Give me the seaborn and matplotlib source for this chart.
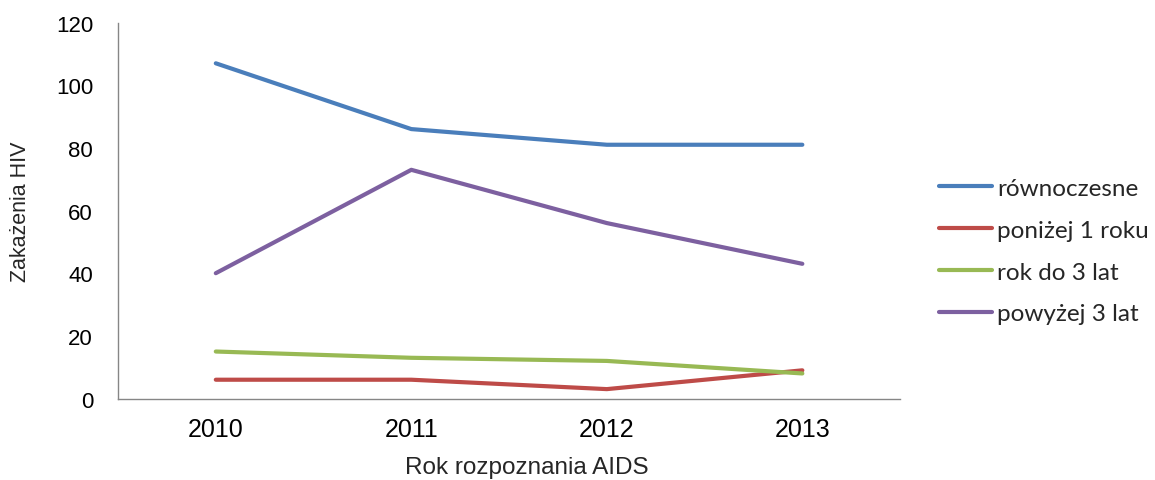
import matplotlib
matplotlib.use("Agg")
import matplotlib.pyplot as plt
import seaborn as sns
import pandas as pd
import numpy as np

# Rok rozpoznania AIDS vs. czas od zakażenia HIV
years = ["2010", "2011", "2012", "2013"]
rownoczesne = [107, 86, 81, 81]
ponizej_1_roku = [6, 6, 3, 9]
rok_do_3_lat = [15, 13, 12, 8]
powyzej_3_lat = [40, 73, 56, 43]

series_names = ["równoczesne", "poniżej 1 roku", "rok do 3 lat", "powyżej 3 lat"]
series_values = [rownoczesne, ponizej_1_roku, rok_do_3_lat, powyzej_3_lat]
colors = ["#4A7EBB", "#BE4B48", "#98B954", "#7D60A0"]

rows = []
for name, vals in zip(series_names, series_values):
    for i, v in enumerate(vals):
        rows.append({"pos": i, "rok": years[i], "seria": name, "wartosc": v})
df = pd.DataFrame(rows)

sns.set_style("white")
plt.rcParams["font.family"] = ["Liberation Sans", "DejaVu Sans"]

fig = plt.figure(figsize=(11.55, 4.81), dpi=100)
ax = fig.add_axes([0.1022, 0.1694, 0.6771, 0.7816])

sns.lineplot(data=df, x="pos", y="wartosc", hue="seria", hue_order=series_names,
             palette=colors, linewidth=3.0, ax=ax, legend=False,
             solid_capstyle="round", solid_joinstyle="round")

ax.set_xlim(-0.5, len(years) - 0.5)
ax.set_ylim(0, 120)
ax.set_yticks(np.arange(0, 121, 20))

# category ticks between groups, labels centred under each year
ax.set_xticks(np.arange(-0.5, len(years), 1.0))
ax.set_xticklabels([])
ax.set_xticks(np.arange(len(years)), minor=True)
ax.set_xticklabels(years, minor=True)
ax.tick_params(axis="x", which="major", length=7, width=1, color="#868686", direction="out")
ax.tick_params(axis="x", which="minor", length=0, labelsize=18, pad=13, labelcolor="#000000")
ax.tick_params(axis="y", length=7, width=1, color="#868686", direction="out",
               labelsize=16, pad=11, labelcolor="#000000")

for side in ["top", "right"]:
    ax.spines[side].set_visible(False)
for side in ["left", "bottom"]:
    ax.spines[side].set_color("#868686")
    ax.spines[side].set_linewidth(1.0)

ax.set_xlabel("Rok rozpoznania AIDS", fontsize=17.5)
ax.set_ylabel("Zakażenia HIV", fontsize=15.5)
ax.xaxis.set_label_coords(0.523, -0.152)
ax.yaxis.set_label_coords(-0.111, 0.5)

handles = [plt.Line2D([], [], color=c, linewidth=3.0, solid_capstyle="round") for c in colors]
fig.legend(handles, series_names, loc="center left", bbox_to_anchor=(0.794, 0.476),
           frameon=False, handlelength=2.2, handletextpad=0.2, labelspacing=0.86,
           prop={"family": ["Lato", "DejaVu Sans"], "size": 17.5})

fig.savefig("out.png", dpi=100, facecolor="white")
